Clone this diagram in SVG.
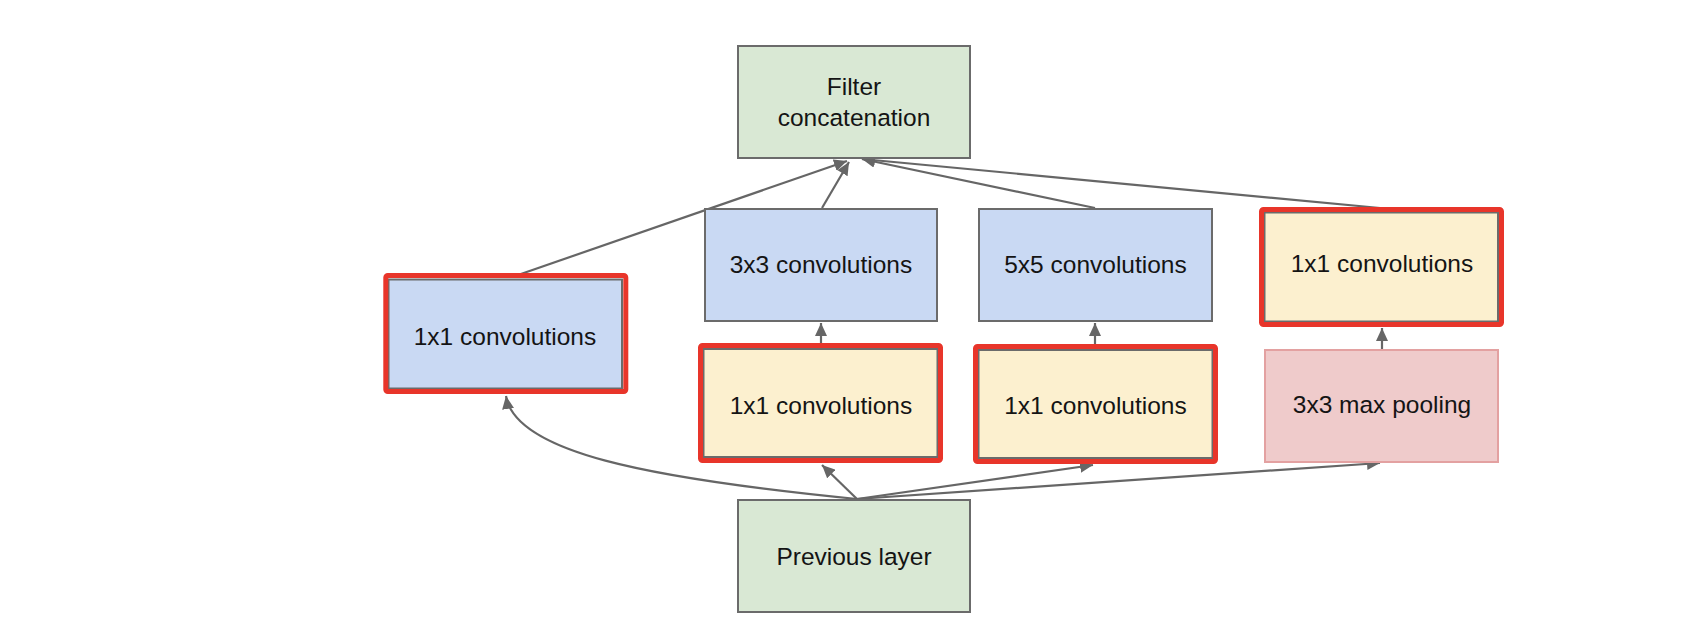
<svg xmlns="http://www.w3.org/2000/svg" width="1702" height="644" viewBox="0 0 1702 644">
<defs>
<marker id="ah" markerUnits="userSpaceOnUse" markerWidth="14" markerHeight="12" refX="13" refY="6" orient="auto">
<path d="M0,0 L13,6 L0,12 Z" fill="#666666"/>
</marker>
<style>
.box{stroke:#6b6b6b;stroke-width:2}
.green{fill:#d9e8d4}
.blue{fill:#c9d9f3}
.yellow{fill:#fcf0cf}
.pink{fill:#efcbcb;stroke:#e3a1a1;stroke-width:2}
.hl{fill:none;stroke:#e8352a;stroke-width:5;stroke-linejoin:round}
.lbl{font-family:"Liberation Sans",Arial,sans-serif;font-size:24.5px;fill:#141414;text-anchor:middle}
.edge{fill:none;stroke:#666666;stroke-width:2.2;marker-end:url(#ah)}
</style>
</defs>
<rect x="0" y="0" width="1702" height="644" fill="#ffffff"/>
<g id="connectors">
<path class="edge" d="M518,275 L847,161"/>
<path class="edge" d="M822,208 L849,162"/>
<path class="edge" d="M1095,208 L862,159"/>
<path class="edge" d="M1380,208 L862,159"/>
<path class="edge" d="M821,345 L821,323"/>
<path class="edge" d="M1095,347 L1095,323"/>
<path class="edge" d="M1382,349 L1382,328"/>
<path class="edge" d="M857,499 C645,478 515,452 506,396"/>
<path class="edge" d="M857,499 L822,465"/>
<path class="edge" d="M857,499 L1093,465"/>
<path class="edge" d="M857,499 L1380,463"/>
</g>
<g id="filter-concat">
<rect class="box green" x="738" y="46" width="232" height="112"/>
<text class="lbl" x="854" y="95">Filter</text>
<text class="lbl" x="854" y="126">concatenation</text>
</g>
<g id="conv1x1-left">
<rect class="box blue" x="388.5" y="279.5" width="233.5" height="109"/>
<rect class="hl" x="385.8" y="275.5" width="240" height="116" rx="2"/>
<text class="lbl" x="505" y="345">1x1 convolutions</text>
</g>
<g id="conv3x3">
<rect class="box blue" x="705" y="209" width="232" height="112"/>
<text class="lbl" x="821" y="273">3x3 convolutions</text>
</g>
<g id="conv5x5">
<rect class="box blue" x="979" y="209" width="233" height="112"/>
<text class="lbl" x="1095.5" y="273">5x5 convolutions</text>
</g>
<g id="conv1x1-right">
<rect class="box yellow" x="1264.5" y="212.5" width="233.5" height="109"/>
<rect class="hl" x="1261.5" y="209.5" width="240" height="115" rx="2"/>
<text class="lbl" x="1382" y="272">1x1 convolutions</text>
</g>
<g id="conv1x1-mid">
<rect class="box yellow" x="703.5" y="349" width="234" height="108"/>
<rect class="hl" x="700.5" y="345.5" width="240" height="115" rx="2"/>
<text class="lbl" x="821" y="414">1x1 convolutions</text>
</g>
<g id="conv1x1-mid2">
<rect class="box yellow" x="978.5" y="350" width="234" height="108"/>
<rect class="hl" x="975.5" y="346.5" width="240" height="115" rx="2"/>
<text class="lbl" x="1095.5" y="414">1x1 convolutions</text>
</g>
<g id="maxpool">
<rect class="pink" x="1265" y="350" width="233" height="112"/>
<text class="lbl" x="1382" y="413">3x3 max pooling</text>
</g>
<g id="previous-layer">
<rect class="box green" x="738" y="500" width="232" height="112"/>
<text class="lbl" x="854" y="565">Previous layer</text>
</g>
</svg>
